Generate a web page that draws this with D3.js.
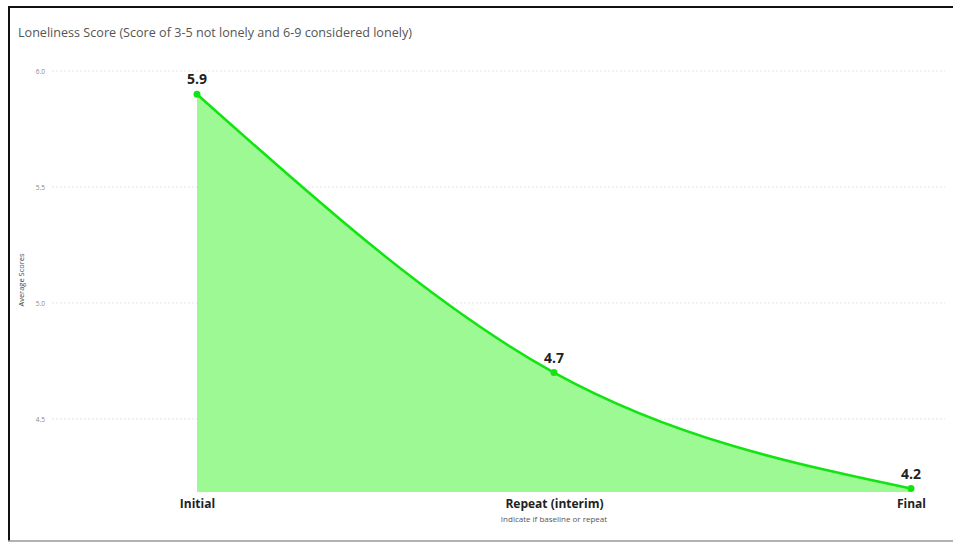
<!DOCTYPE html>
<html>
<head>
<meta charset="utf-8">
<script src="https://cdn.jsdelivr.net/npm/d3@7"></script>
<style>
  html, body { margin: 0; padding: 0; background: #fff; }
  svg { display: block; font-family: "Open Sans", "Noto Sans", sans-serif; }
</style>
</head>
<body>
<svg id="chart" width="953" height="543"></svg>
<script>
// Loneliness score by assessment stage
const stages = ["Initial", "Repeat (interim)", "Final"];
const scores = [5.9, 4.7, 4.2];
const yTicks = [4.5, 5.0, 5.5, 6.0];

const svg = d3.select("#chart");
const W = 953, H = 543;

// panel frame
svg.append("line").attr("x1", 8).attr("x2", W).attr("y1", 7).attr("y2", 7)
  .attr("stroke", "#111").attr("stroke-width", 2);
svg.append("line").attr("x1", 9).attr("x2", 9).attr("y1", 6).attr("y2", 541)
  .attr("stroke", "#111").attr("stroke-width", 2);
svg.append("line").attr("x1", 8).attr("x2", W).attr("y1", 541).attr("y2", 541)
  .attr("stroke", "#999").attr("stroke-width", 1.5);

// title
svg.append("text").attr("x", 18).attr("y", 37)
  .attr("font-size", 12.6).attr("fill", "#555")
  .text("Loneliness Score (Score of 3-5 not lonely and 6-9 considered lonely)");

const x = d3.scalePoint().domain(stages).range([197, 911]);
const y = d3.scaleLinear().domain([4.185, 6.0]).range([492, 71]);

// gridlines
const grid = svg.append("g");
grid.selectAll("line").data(yTicks).join("line")
  .attr("x1", 52).attr("x2", 945)
  .attr("y1", d => y(d)).attr("y2", d => y(d))
  .attr("stroke", "#e4e4e4").attr("stroke-width", 1)
  .attr("stroke-dasharray", "2,2");

// y axis tick labels
const yAxis = d3.axisLeft(y).tickValues(yTicks).tickFormat(d3.format(".1f")).tickSize(0).tickPadding(0);
const gy = svg.append("g").attr("transform", "translate(45,0)").call(yAxis);
gy.select(".domain").remove();
gy.selectAll("text").attr("font-size", 6.5).attr("fill", "#888")
  .attr("font-family", "'Open Sans', sans-serif");

// y axis title
svg.append("text")
  .attr("transform", "translate(24,280) rotate(-90)")
  .attr("text-anchor", "middle").attr("font-size", 7.5).attr("fill", "#444")
  .text("Average Scores");

const data = stages.map((s, i) => ({ stage: s, score: scores[i] }));

// area under the curve
const area = d3.area()
  .x(d => x(d.stage)).y0(y(4.185)).y1(d => y(d.score))
  .curve(d3.curveMonotoneX);
svg.append("path").datum(data).attr("d", area).attr("fill", "#9cf994");

// line
const line = d3.line()
  .x(d => x(d.stage)).y(d => y(d.score))
  .curve(d3.curveMonotoneX);
svg.append("path").datum(data).attr("d", line)
  .attr("fill", "none").attr("stroke", "#12e412").attr("stroke-width", 2.5);

// points
svg.selectAll("circle.pt").data(data).join("circle")
  .attr("class", "pt")
  .attr("cx", d => x(d.stage)).attr("cy", d => y(d.score)).attr("r", 3.5)
  .attr("fill", "#12e412");

// value labels
svg.selectAll("text.val").data(data).join("text")
  .attr("class", "val")
  .attr("x", d => x(d.stage)).attr("y", d => y(d.score) - 10)
  .attr("text-anchor", "middle").attr("font-size", 14).attr("font-weight", "bold")
  .attr("fill", "#222")
  .text(d => d3.format(".1f")(d.score));

// x axis category labels
const xAxis = d3.axisBottom(x).tickSize(0).tickPadding(0);
const gx = svg.append("g").attr("transform", "translate(0,499)").call(xAxis);
gx.select(".domain").remove();
gx.selectAll("text").attr("font-size", 12).attr("font-weight", "bold")
  .attr("fill", "#222").attr("font-family", "'Open Sans', sans-serif");

// x axis title
svg.append("text").attr("x", x("Repeat (interim)")).attr("y", 522)
  .attr("text-anchor", "middle").attr("font-size", 8).attr("fill", "#555")
  .text("Indicate if baseline or repeat");
</script>
</body>
</html>
